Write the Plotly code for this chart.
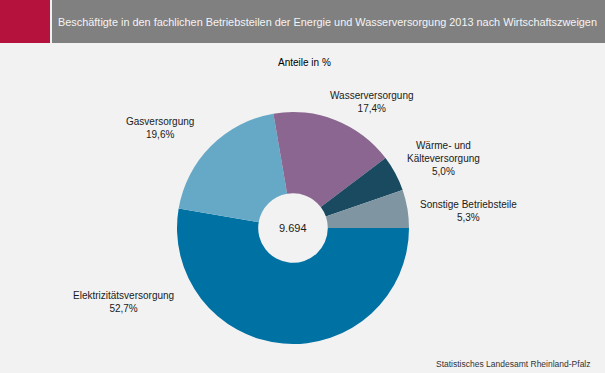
import plotly.graph_objects as go

categories = ["Elektrizitätsversorgung", "Gasversorgung", "Wasserversorgung",
              "Wärme- und<br>Kälteversorgung", "Sonstige Betriebsteile"]
values = [52.7, 19.6, 17.4, 5.0, 5.3]
colors = ["#0071a3", "#66a9c7", "#8a6690", "#1a4a60", "#7f96a2"]
total_label = "9.694"
title = "Beschäftigte in den fachlichen Betriebsteilen der Energie und Wasserversorgung 2013 nach Wirtschaftszweigen"
subtitle = "Anteile in %"
source = "Statistisches Landesamt Rheinland-Pfalz"

W, H = 605, 373
cx, cy, r = 293, 228, 116

fig = go.Figure()
fig.add_trace(go.Pie(
    labels=categories, values=values, sort=False, direction="clockwise",
    rotation=90, hole=0.3, marker=dict(colors=colors, line=dict(width=0)),
    textinfo="none", hoverinfo="label+percent", showlegend=False,
    domain=dict(x=[(cx - r) / W, (cx + r) / W], y=[1 - (cy + r) / H, 1 - (cy - r) / H]),
))

# label positions (pixels) for each slice
label_pos = [(123, 302), (160, 128), (372, 102), (443, 158), (468, 211)]
font = dict(family="Liberation Sans, Arial", size=10, color="#1a1a1a")
for cat, v, (x, y) in zip(categories, values, label_pos):
    fig.add_annotation(x=x / W, y=1 - y / H, xref="paper", yref="paper",
                       text=f"{cat}<br>{v:.1f}%".replace(".", ","), showarrow=False,
                       font=font, align="center", xanchor="center", yanchor="middle")

fig.add_annotation(x=cx / W, y=1 - cy / H, xref="paper", yref="paper", text=total_label,
                   showarrow=False, font=dict(family="Liberation Sans, Arial", size=11, color="#1a1a1a"))

# header bar
fig.add_shape(type="rect", xref="paper", yref="paper", x0=0, x1=50 / W, y0=1 - 43 / H, y1=1,
              fillcolor="#b5123e", line_width=0)
fig.add_shape(type="rect", xref="paper", yref="paper", x0=52 / W, x1=1, y0=1 - 43 / H, y1=1,
              fillcolor="#808080", line_width=0)
fig.add_annotation(x=56 / W, y=1 - 22 / H, xref="paper", yref="paper", text=title, showarrow=False,
                   xanchor="left", yanchor="middle",
                   font=dict(family="Liberation Sans, Arial", size=10.9, color="#f4f4f4"))
fig.add_annotation(x=304 / W, y=1 - 55 / H, xref="paper", yref="paper", text=subtitle, showarrow=False,
                   font=dict(family="Liberation Sans, Arial", size=10, color="black"))
fig.add_annotation(x=593 / W, y=1 - 364 / H, xref="paper", yref="paper", text=source, showarrow=False,
                   xanchor="right", yanchor="middle",
                   font=dict(family="Liberation Sans, Arial", size=8.5, color="#333333"))

fig.update_layout(width=W, height=H, margin=dict(l=0, r=0, t=0, b=0),
                  paper_bgcolor="#f2f2f2", plot_bgcolor="#f2f2f2")
fig.write_html("out.html", config={"displayModeBar": False},
               post_script="document.body.style.margin='0';")
